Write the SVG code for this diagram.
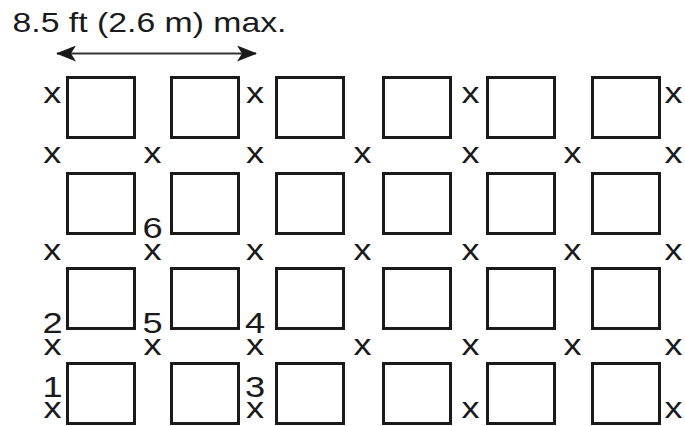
<svg xmlns="http://www.w3.org/2000/svg" width="685" height="426" viewBox="0 0 685 426">
  <style>
    .sq { fill: #ffffff; stroke: #1a1a1a; stroke-width: 3; }
    .m { font-family: "Liberation Sans", Arial, sans-serif; font-size: 29px; fill: #1a1a1a; text-anchor: middle; }
    .t { font-family: "Liberation Sans", Arial, sans-serif; font-size: 28px; fill: #1a1a1a; }
    .dim { stroke: #333333; stroke-width: 2; fill: none; }
  </style>
  <defs>
    <marker id="ah" viewBox="0 0 20 16" refX="19" refY="8" markerWidth="20" markerHeight="16" markerUnits="userSpaceOnUse" orient="auto-start-reverse">
      <path d="M20,8 L0,0 L5,8 L0,16 Z" fill="#1a1a1a"/>
    </marker>
  </defs>
  <rect width="685" height="426" fill="#ffffff"/>

  <g id="title">
    <text class="t" x="12.5" y="31.5" textLength="274" lengthAdjust="spacingAndGlyphs">8.5 ft (2.6 m) max.</text>
  </g>

  <g id="connectors">
    <line class="dim" x1="57" y1="53.5" x2="256" y2="53.5" marker-start="url(#ah)" marker-end="url(#ah)"/>
  </g>

  <g id="squares">
    <g id="r1c1"><rect class="sq" x="67.5" y="77.5" width="67" height="60"/></g>
    <g id="r1c2"><rect class="sq" x="171.5" y="77.5" width="67" height="60"/></g>
    <g id="r1c3"><rect class="sq" x="276.5" y="77.5" width="67" height="60"/></g>
    <g id="r1c4"><rect class="sq" x="383.5" y="77.5" width="67" height="60"/></g>
    <g id="r1c5"><rect class="sq" x="487.5" y="77.5" width="67" height="60"/></g>
    <g id="r1c6"><rect class="sq" x="592.5" y="77.5" width="67" height="60"/></g>

    <g id="r2c1"><rect class="sq" x="67.5" y="173.5" width="67" height="60"/></g>
    <g id="r2c2"><rect class="sq" x="171.5" y="173.5" width="67" height="60"/></g>
    <g id="r2c3"><rect class="sq" x="276.5" y="173.5" width="67" height="60"/></g>
    <g id="r2c4"><rect class="sq" x="383.5" y="173.5" width="67" height="60"/></g>
    <g id="r2c5"><rect class="sq" x="487.5" y="173.5" width="67" height="60"/></g>
    <g id="r2c6"><rect class="sq" x="592.5" y="173.5" width="67" height="60"/></g>

    <g id="r3c1"><rect class="sq" x="67.5" y="268.5" width="67" height="60"/></g>
    <g id="r3c2"><rect class="sq" x="171.5" y="268.5" width="67" height="60"/></g>
    <g id="r3c3"><rect class="sq" x="276.5" y="268.5" width="67" height="60"/></g>
    <g id="r3c4"><rect class="sq" x="383.5" y="268.5" width="67" height="60"/></g>
    <g id="r3c5"><rect class="sq" x="487.5" y="268.5" width="67" height="60"/></g>
    <g id="r3c6"><rect class="sq" x="592.5" y="268.5" width="67" height="60"/></g>

    <g id="r4c1"><rect class="sq" x="67.5" y="363.5" width="67" height="60"/></g>
    <g id="r4c2"><rect class="sq" x="171.5" y="363.5" width="67" height="60"/></g>
    <g id="r4c3"><rect class="sq" x="276.5" y="363.5" width="67" height="60"/></g>
    <g id="r4c4"><rect class="sq" x="383.5" y="363.5" width="67" height="60"/></g>
    <g id="r4c5"><rect class="sq" x="487.5" y="363.5" width="67" height="60"/></g>
    <g id="r4c6"><rect class="sq" x="592.5" y="363.5" width="67" height="60"/></g>
  </g>

  <g id="marks">
    <text class="m" x="52.3" y="103" textLength="18" lengthAdjust="spacingAndGlyphs">x</text>
    <text class="m" x="255" y="103" textLength="18" lengthAdjust="spacingAndGlyphs">x</text>
    <text class="m" x="470.5" y="103" textLength="18" lengthAdjust="spacingAndGlyphs">x</text>
    <text class="m" x="673.5" y="103" textLength="18" lengthAdjust="spacingAndGlyphs">x</text>

    <text class="m" x="52.3" y="163" textLength="18" lengthAdjust="spacingAndGlyphs">x</text>
    <text class="m" x="152.5" y="163" textLength="18" lengthAdjust="spacingAndGlyphs">x</text>
    <text class="m" x="255" y="163" textLength="18" lengthAdjust="spacingAndGlyphs">x</text>
    <text class="m" x="362.5" y="163" textLength="18" lengthAdjust="spacingAndGlyphs">x</text>
    <text class="m" x="470.5" y="163" textLength="18" lengthAdjust="spacingAndGlyphs">x</text>
    <text class="m" x="572.5" y="163" textLength="18" lengthAdjust="spacingAndGlyphs">x</text>
    <text class="m" x="673.5" y="163" textLength="18" lengthAdjust="spacingAndGlyphs">x</text>

    <text class="m" x="52.3" y="260" textLength="18" lengthAdjust="spacingAndGlyphs">x</text>
    <text class="m" x="255" y="260" textLength="18" lengthAdjust="spacingAndGlyphs">x</text>
    <text class="m" x="362.5" y="260" textLength="18" lengthAdjust="spacingAndGlyphs">x</text>
    <text class="m" x="470.5" y="260" textLength="18" lengthAdjust="spacingAndGlyphs">x</text>
    <text class="m" x="572.5" y="260" textLength="18" lengthAdjust="spacingAndGlyphs">x</text>
    <text class="m" x="673.5" y="260" textLength="18" lengthAdjust="spacingAndGlyphs">x</text>

    <text class="m" x="362.5" y="355" textLength="18" lengthAdjust="spacingAndGlyphs">x</text>
    <text class="m" x="470.5" y="355" textLength="18" lengthAdjust="spacingAndGlyphs">x</text>
    <text class="m" x="572.5" y="355" textLength="18" lengthAdjust="spacingAndGlyphs">x</text>
    <text class="m" x="673.5" y="355" textLength="18" lengthAdjust="spacingAndGlyphs">x</text>

    <text class="m" x="470.5" y="418" textLength="18" lengthAdjust="spacingAndGlyphs">x</text>
    <text class="m" x="673.5" y="418" textLength="18" lengthAdjust="spacingAndGlyphs">x</text>
  </g>

  <g id="numbers">
    <text class="m" transform="translate(152.6,0) scale(1.25,1)"><tspan x="0" y="238">6</tspan><tspan x="0" y="260">x</tspan></text>
    <text class="m" transform="translate(52.5,0) scale(1.25,1)"><tspan x="0" y="333">2</tspan><tspan x="0" y="355">x</tspan></text>
    <text class="m" transform="translate(152.6,0) scale(1.25,1)"><tspan x="0" y="333">5</tspan><tspan x="0" y="355">x</tspan></text>
    <text class="m" transform="translate(255,0) scale(1.25,1)"><tspan x="0" y="333">4</tspan><tspan x="0" y="355">x</tspan></text>
    <text class="m" transform="translate(52.5,0) scale(1.25,1)"><tspan x="0" y="397">1</tspan><tspan x="0" y="418">x</tspan></text>
    <text class="m" transform="translate(255,0) scale(1.25,1)"><tspan x="0" y="397">3</tspan><tspan x="0" y="418">x</tspan></text>
  </g>
</svg>
